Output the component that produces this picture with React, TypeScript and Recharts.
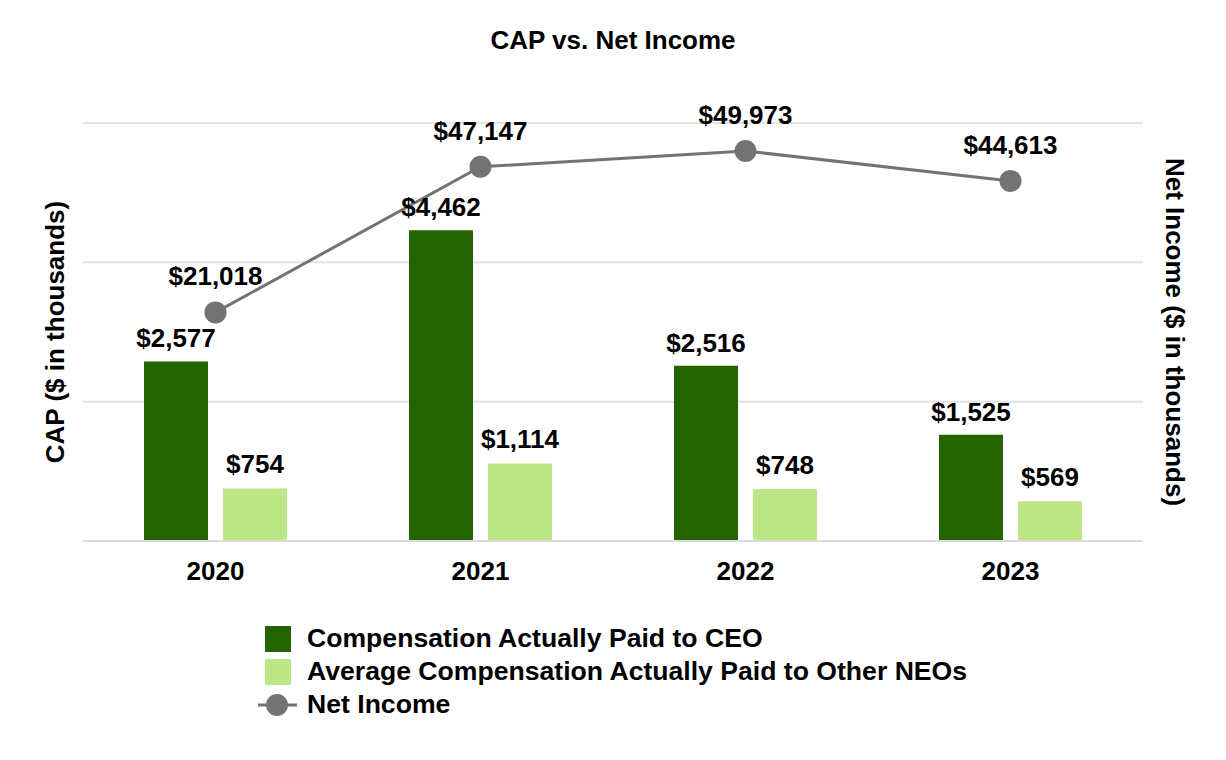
import { ComposedChart, Bar, Line, XAxis, YAxis, CartesianGrid, LabelList } from 'recharts';

const years = ['2020', '2021', '2022', '2023'];
const ceoCap = [2577, 4462, 2516, 1525];
const neoCap = [754, 1114, 748, 569];
const netIncome = [21018, 47147, 49973, 44613];

const capTicks = [0, 2000, 4000, 6000];

const legendItems = [
  { name: 'Compensation Actually Paid to CEO', kind: 'rect' },
  { name: 'Average Compensation Actually Paid to Other NEOs', kind: 'rect' },
  { name: 'Net Income', kind: 'line' },
];

const data = years.map((year, i) => ({
  year,
  ceo: ceoCap[i],
  neo: neoCap[i],
  income: netIncome[i],
}));

const FONT = '"Liberation Sans", Arial, sans-serif';
const DARK = '#236400';
const LIGHT = '#bde686';
const GRAY = '#737373';
const legendColors = [DARK, LIGHT, GRAY];

const money = (v: any) => `$${Number(v).toLocaleString('en-US')}`;
const labelStyle = { fontFamily: FONT, fontWeight: 'bold', fontSize: 26, fill: '#000' };

const ChartLegend = () => (
  <div
    style={{
      position: 'absolute',
      left: 256,
      top: 622,
      fontFamily: FONT,
      fontWeight: 'bold',
      fontSize: 26.6,
      color: '#000',
    }}
  >
    {legendItems.map((it, i) => (
      <div key={it.name} style={{ display: 'flex', alignItems: 'center', height: 33, whiteSpace: 'nowrap' }}>
        <svg width={48} height={30} style={{ marginRight: 3 }}>
          {it.kind === 'rect' ? (
            <rect x={9} y={2} width={26} height={26} fill={legendColors[i]} />
          ) : (
            <g>
              <line x1={2} y1={15} x2={41} y2={15} stroke={legendColors[i]} strokeWidth={3} />
              <circle cx={21} cy={15} r={11} fill={legendColors[i]} />
            </g>
          )}
        </svg>
        <span>{it.name}</span>
      </div>
    ))}
  </div>
);

const App = () => {
  return (
    <div style={{ position: 'absolute', left: 0, top: 0, width: 1226, height: 760, background: '#fff' }}>
      <div
        style={{
          position: 'absolute',
          top: 25,
          width: 1226,
          textAlign: 'center',
          fontFamily: FONT,
          fontWeight: 'bold',
          fontSize: 26,
          lineHeight: '30px',
        }}
      >
        CAP vs. Net Income
      </div>
      <ComposedChart
        width={1226}
        height={760}
        data={data}
        margin={{ top: 123, right: 0, bottom: 189, left: 0 }}
        barGap={15}
        barCategoryGap={60}
      >
        <CartesianGrid yAxisId="left" vertical={false} stroke="#e3e3e3" strokeWidth={2} />
        <XAxis
          dataKey="year"
          height={30}
          axisLine={{ stroke: '#dcdcdc', strokeWidth: 2 }}
          tickLine={false}
          tickMargin={15}
          tick={{ fill: '#000', fontFamily: FONT, fontWeight: 'bold', fontSize: 26 }}
        />
        <YAxis
          yAxisId="left"
          width={83}
          domain={[0, 6000]}
          ticks={capTicks}
          interval={0}
          axisLine={false}
          tickLine={false}
          tick={() => <g />}
          label={({ viewBox }: any) => (
            <text
              x={viewBox.x + 55}
              y={viewBox.y + viewBox.height / 2}
              transform={`rotate(-90 ${viewBox.x + 55} ${viewBox.y + viewBox.height / 2})`}
              textAnchor="middle"
              dominantBaseline="central"
              style={{ fontFamily: FONT, fontWeight: 'bold', fontSize: 26 }}
              fill="#000"
            >
              CAP ($ in thousands)
            </text>
          )}
        />
        <YAxis
          yAxisId="right"
          orientation="right"
          width={83}
          domain={[-20000, 55000]}
          axisLine={false}
          tickLine={false}
          tick={false}
          label={({ viewBox }: any) => (
            <text
              x={viewBox.x + 32}
              y={viewBox.y + viewBox.height / 2}
              transform={`rotate(90 ${viewBox.x + 32} ${viewBox.y + viewBox.height / 2})`}
              textAnchor="middle"
              dominantBaseline="central"
              style={{ fontFamily: FONT, fontWeight: 'bold', fontSize: 26 }}
              fill="#000"
            >
              Net Income ($ in thousands)
            </text>
          )}
        />
        <Bar yAxisId="left" dataKey="ceo" name="Compensation Actually Paid to CEO" fill={DARK} barSize={64} isAnimationActive={false}>
          <LabelList dataKey="ceo" position="top" offset={14} formatter={money} style={labelStyle} />
        </Bar>
        <Bar yAxisId="left" dataKey="neo" name="Average Compensation Actually Paid to Other NEOs" fill={LIGHT} barSize={64} isAnimationActive={false}>
          <LabelList dataKey="neo" position="top" offset={15} formatter={money} style={labelStyle} />
        </Bar>
        <Line
          yAxisId="right"
          dataKey="income"
          name="Net Income"
          stroke={GRAY}
          strokeWidth={3}
          dot={{ r: 11, fill: GRAY, stroke: GRAY, strokeWidth: 0 }}
          activeDot={false}
          isAnimationActive={false}
        >
          <LabelList dataKey="income" position="top" offset={27} formatter={money} style={labelStyle} />
        </Line>
      </ComposedChart>
      <ChartLegend />
    </div>
  );
};

export default App;
